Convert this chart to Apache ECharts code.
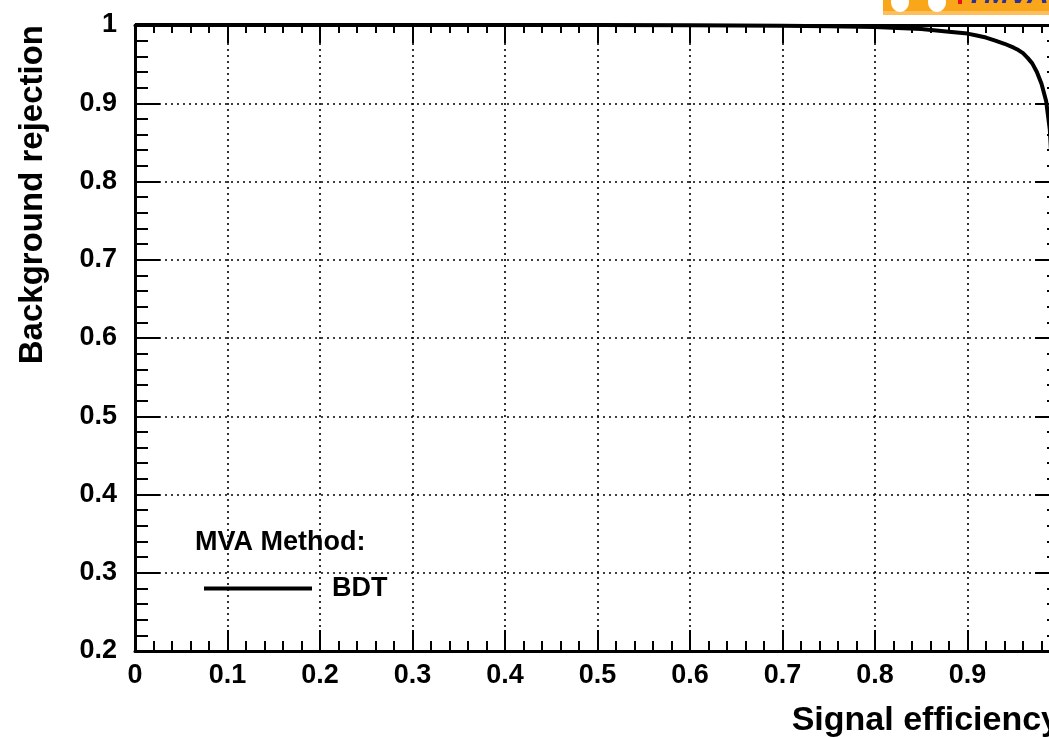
<!DOCTYPE html>
<html>
<head>
<meta charset="utf-8">
<title>Background rejection versus Signal efficiency</title>
<script src="https://cdn.jsdelivr.net/npm/echarts@6/dist/echarts.min.js"></script>
<style>
  html, body { margin: 0; padding: 0; background: #fff; }
  #chart { width: 1049px; height: 737px; }
</style>
</head>
<body>
<div id="chart"></div>
<script>
// ROC curve of the BDT classifier
const signalEff = [0, 0.1, 0.2, 0.3, 0.4, 0.5, 0.6, 0.7, 0.75, 0.8, 0.85, 0.88, 0.9, 0.91, 0.92, 0.93, 0.94, 0.95, 0.955, 0.96, 0.965, 0.97, 0.975, 0.98, 0.985, 0.989, 0.993, 0.997, 1.0];
const bkgRej    = [1, 1, 1, 1, 1, 1, 0.9998, 0.9992, 0.9985, 0.9975, 0.995, 0.9915, 0.989, 0.9865, 0.984, 0.980, 0.976, 0.971, 0.968, 0.964, 0.958, 0.951, 0.940, 0.925, 0.903, 0.866, 0.78, 0.6, 0];

const methodName = 'BDT';
const legendHeader = 'MVA Method:';
const xTitle = 'Signal efficiency';
const yTitle = 'Background rejection';

const xRange = { min: 0, max: 1, step: 0.1 };
const yRange = { min: 0.2, max: 1, step: 0.1 };

const FONT = '"Liberation Sans", Arial, Helvetica, sans-serif';
const fmt = v => String(Math.round(v * 10) / 10);

const frameLine = { show: true, onZero: false, lineStyle: { color: '#000', width: 3 } };
const gridDots = { show: true, lineStyle: { color: '#000', width: 1.6, type: [2, 4] } };

function xAxisDef(pos, main) {
  return {
    type: 'value', position: pos, min: xRange.min, max: xRange.max, interval: xRange.step,
    axisLine: frameLine,
    axisTick: { show: true, inside: true, length: main ? 21 : 18, lineStyle: { color: '#000', width: 2 } },
    minorTick: { show: true, splitNumber: 5, length: main ? 10 : 8, lineStyle: { color: '#000', width: 2 } },
    splitLine: main ? gridDots : { show: false },
    axisLabel: main ? { show: true, formatter: fmt, color: '#000', fontFamily: FONT, fontWeight: 'bold', fontSize: 27, margin: 11 } : { show: false },
    name: main ? xTitle : '',
    nameLocation: 'end', nameGap: 0,
    nameTextStyle: { color: '#000', fontFamily: FONT, fontWeight: 'bold', fontSize: 34, align: 'right', verticalAlign: 'top', padding: [53, 0, 0, 0] }
  };
}

function yAxisDef(pos, main) {
  return {
    type: 'value', position: pos, min: yRange.min, max: yRange.max, interval: yRange.step,
    axisLine: frameLine,
    axisTick: { show: true, inside: true, length: 25, lineStyle: { color: '#000', width: 2 } },
    minorTick: { show: true, splitNumber: 5, length: 13, lineStyle: { color: '#000', width: 2 } },
    splitLine: main ? gridDots : { show: false },
    axisLabel: main ? { show: true, formatter: fmt, color: '#000', fontFamily: FONT, fontWeight: 'bold', fontSize: 27, margin: 18 } : { show: false },
    name: main ? yTitle : '',
    nameLocation: 'end', nameGap: 0, nameRotate: 90,
    nameTextStyle: { color: '#000', fontFamily: FONT, fontWeight: 'bold', fontSize: 33, align: 'right', verticalAlign: 'bottom', padding: [0, 0, 86, 0] }
  };
}

const chart = echarts.init(document.getElementById('chart'), null, { renderer: 'canvas' });

chart.setOption({
  backgroundColor: '#fff',
  animation: false,
  // the frame runs on past the right edge of the page, so layout is not squeezed to fit
  grid: { left: 135, top: 25, width: 925, height: 626, containLabel: false, outerBoundsMode: 'none' },
  xAxis: [xAxisDef('bottom', true), xAxisDef('top', false)],
  yAxis: [yAxisDef('left', true), yAxisDef('right', false)],
  title: {
    text: legendHeader, left: 195, top: 529, padding: 0,
    textStyle: { color: '#000', fontFamily: FONT, fontWeight: 'bold', fontSize: 27 }
  },
  legend: {
    data: [methodName], left: 204, top: 575, padding: 0,
    icon: 'rect', itemWidth: 108, itemHeight: 4,
    textStyle: { color: '#000', fontFamily: FONT, fontWeight: 'bold', fontSize: 27, padding: [0, 0, 0, 15] },
    selectedMode: false
  },
  graphic: [
    // TMVA logo strip along the top edge
    { type: 'rect', shape: { x: 883, y: 0, width: 170, height: 12 }, style: { fill: '#FAA61A' }, z: 10 },
    { type: 'rect', shape: { x: 883, y: 11, width: 170, height: 4 }, style: { fill: '#FDBF5E' }, z: 10 },
    { type: 'ellipse', shape: { cx: 900, cy: 2, rx: 9, ry: 10 }, style: { fill: '#fff' }, z: 11 },
    { type: 'ellipse', shape: { cx: 937, cy: 2, rx: 9, ry: 10 }, style: { fill: '#fff' }, z: 11 },
    { type: 'rect', shape: { x: 958, y: 0, width: 4, height: 4 }, style: { fill: '#e8101a' }, z: 11 },
    { type: 'text', x: 966, y: 10, z: 11,
      style: { text: 'TMVA', fill: '#2e3192', font: 'italic bold 30px ' + FONT, verticalAlign: 'bottom', align: 'left' } }
  ],
  series: [{
    name: methodName,
    type: 'line',
    xAxisIndex: 0, yAxisIndex: 0,
    data: signalEff.map((x, i) => [x, bkgRej[i]]),
    showSymbol: false, symbol: 'none', smooth: false, clip: true,
    color: '#000',
    lineStyle: { color: '#000', width: 4, join: 'round' },
    z: 5
  }]
});
</script>
</body>
</html>
